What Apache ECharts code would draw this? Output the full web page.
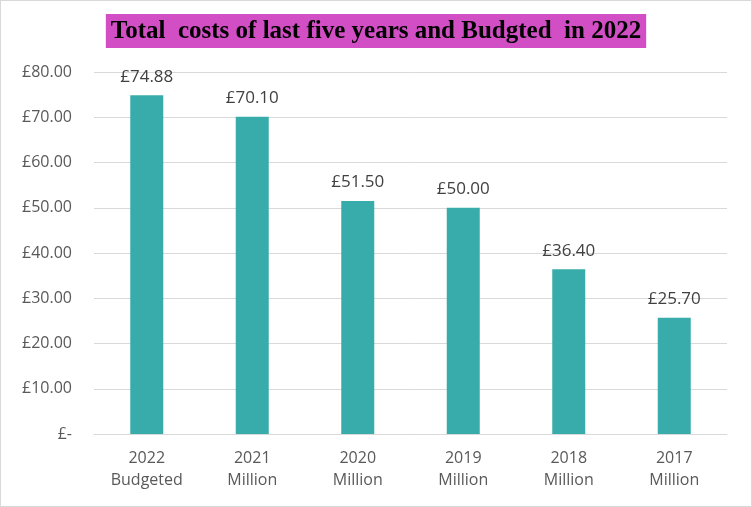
<!DOCTYPE html>
<html><head><meta charset="utf-8">
<script src="https://cdn.jsdelivr.net/npm/echarts@6/dist/echarts.min.js"></script>
<style>html,body{margin:0;padding:0;background:#fff}#c{width:752px;height:507px;box-sizing:border-box;border:1px solid #d9d9d9}</style>
</head><body><div id="c"></div>
<script>
const titleText = 'Total  costs of last five years and Budgted  in 2022';
const categories = ['2022\nBudgeted','2021\nMillion','2020\nMillion','2019\nMillion','2018\nMillion','2017\nMillion'];
const values = [74.88, 70.10, 51.50, 50.00, 36.40, 25.70];
const yMin = 0, yMax = 80, yStep = 10;

const chart = echarts.init(document.getElementById('c'), null, {renderer:'canvas'});
chart.setOption({
  animation:false,
  title:{
    text:titleText, left:'center', top:13,
    backgroundColor:'#D24EC4', padding:[5,5,4,5],
    textStyle:{fontFamily:'Liberation Serif', fontWeight:'bold', fontSize:25, color:'#000'}
  },
  grid:{left:93, right:24, top:71, bottom:72},
  xAxis:{
    type:'category', data:categories,
    axisLine:{lineStyle:{color:'#d9d9d9', width:1}},
    axisTick:{show:false},
    axisLabel:{color:'#595959', fontFamily:'Open Sans', fontSize:16, lineHeight:22, margin:13}
  },
  yAxis:{
    type:'value', min:yMin, max:yMax, interval:yStep,
    axisLine:{show:false}, axisTick:{show:false},
    splitLine:{lineStyle:{color:'#d9d9d9', width:1}},
    axisLabel:{color:'#595959', fontFamily:'Open Sans', fontSize:16, margin:22,
      formatter:v=> v===0 ? '£-' : '£'+v.toFixed(2)}
  },
  series:[{
    type:'bar', data:values, barWidth:33,
    itemStyle:{color:'#37ACAB'},
    label:{show:true, position:'top', distance:10, color:'#404040', fontFamily:'Open Sans', fontSize:17,
      formatter:p=>'£'+p.value.toFixed(2)}
  }]
});
</script></body></html>
